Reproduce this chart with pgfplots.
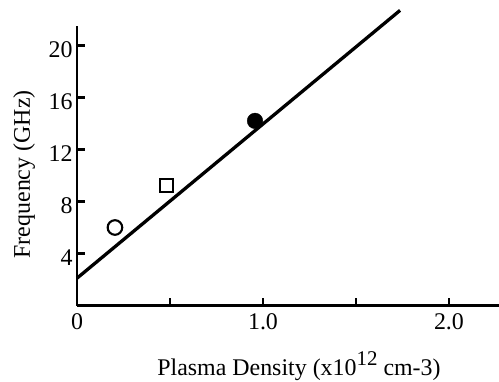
\documentclass[border=0pt]{standalone}
\usepackage{fontspec}
\setmainfont{Liberation Serif}
\usepackage{pgfplots}
\pgfplotsset{compat=1.18}
\begin{document}
\begin{tikzpicture}[x=1bp,y=1bp]
\useasboundingbox (0,0) rectangle (499,381);
\begin{axis}[
  at={(77bp,75.5bp)}, anchor=south west,
  scale only axis, width=422bp, height=279bp,
  xmin=0, xmax=2.269, ymin=0, ymax=21.46,
  axis x line=bottom, axis y line=left,
  axis line style={line width=2.7bp, -},
  clip=false,
  xtick={0,0.5,1,1.5,2}, xticklabels={0,,1.0,,2.0},
  ytick={4,8,12,16,20},
  tick align=inside,
  major tick length=8bp,
  tick style={line width=2.2bp, black},
  font=\fontsize{24}{28}\selectfont,
  /pgf/number format/assume math mode=true,
  yticklabel style={yshift=-4.5bp, xshift=-1bp},
  xticklabel style={yshift=-4.5bp},
  xlabel={Plasma Density (x10\raisebox{0.4em}{\fontsize{21}{21}\selectfont 12} cm-3)},
  ylabel={Frequency (GHz)},
  xlabel style={at={(axis description cs:0.526,-0.218)}, anchor=center},
  ylabel style={at={(axis description cs:-0.125,0.47)}, anchor=center},
]
\addplot[line width=3.3bp, black] coordinates {(0,2.1) (1.737,22.7)};
\addplot[only marks, mark=o, mark size=7.3bp, line width=2.1bp, black] coordinates {(0.204,6.0)};
\addplot[only marks, mark=square, mark size=6.5bp, line width=2.1bp, black] coordinates {(0.482,9.22)};
\addplot[only marks, mark=*, mark size=7.8bp, black, fill=black] coordinates {(0.957,14.2)};
\end{axis}
\end{tikzpicture}
\end{document}
